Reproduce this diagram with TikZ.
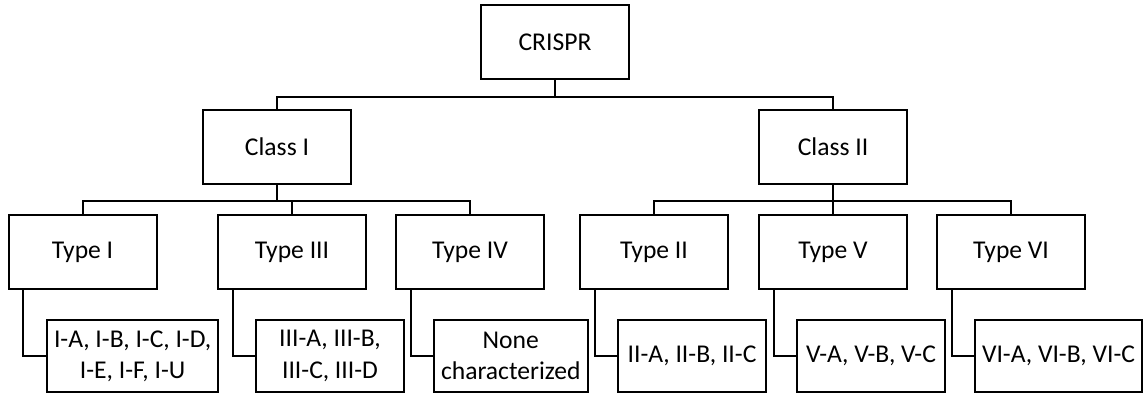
\documentclass[tikz,border=0pt]{standalone}
\usepackage{fontspec}
\setmainfont{Carlito}
\usetikzlibrary{backgrounds}

\begin{document}
\begin{tikzpicture}[x=0.5pt, y=-0.5pt,% pixel grid, y downwards
	box/.style={draw, line width=1pt, rectangle, minimum width=74pt, minimum height=37pt,
		inner xsep=3.5pt, align=center, font=\fontsize{12.8pt}{15.6pt}\selectfont},
	leaf/.style={box, minimum height=36pt, anchor=west},
	link/.style={line width=1pt}]

\useasboundingbox (0,0) rectangle (1144,394);

% Arrel
\node [box] (crispr) at (555, 42.5) {CRISPR};
%%%%%%%%%%%%%%%%%%%%%%%%%%%%%%%%%%%%%%%%%%%%%%%%%%%%%%%%%%%%%%%%%%%%%%%%%%%%%%%%
\node [box] (class1) at (277, 147) {Class I};
\node [box] (type1)  at (82.5, 252) {Type I};
\node [box] (type3)  at (292, 252)  {Type III};
\node [box] (type4)  at (470, 252)  {Type IV};
\node [leaf] (leaf1) at (46, 356)   {I-A, I-B, I-C, I-D,\\I-E, I-F, I-U};
\node [leaf] (leaf3) at (255, 356)  {III-A, III-B,\\III-C, III-D};
\node [leaf] (leaf4) at (433, 356)  {None\\characterized};
%%%%%%%%%%%%%%%%%%%%%%%%%%%%%%%%%%%%%%%%%%%%%%%%%%%%%%%%%%%%%%%%%%%%%%%%%%%%%%%%
\node [box] (class2) at (833, 147) {Class II};
\node [box] (type2)  at (654, 252)  {Type II};
\node [box] (type5)  at (833, 252)  {Type V};
\node [box] (type6)  at (1011, 252) {Type VI};
\node [leaf] (leaf2) at (617, 356)  {II-A, II-B, II-C};
\node [leaf] (leaf5) at (796, 356)  {V-A, V-B, V-C};
\node [leaf] (leaf6) at (974, 356)  {VI-A, VI-B, VI-C};
%%%%%%%%%%%%%%%%%%%%%%%%%%%%%%%%%%%%%%%%%%%%%%%%%%%%%%%%%%%%%%%%%%%%%%%%%%%%%%%%

%%%%%%%%%%%%%%%%%%%%%%%%%%%%%%%%%%%%%%%%%%%%%%%%%%%%%%%%%%%%%%%%%%%%%%%%%%%%%%%%
% Connexions
%%%%%%%%%%%%%%%%%%%%%%%%%%%%%%%%%%%%%%%%%%%%%%%%%%%%%%%%%%%%%%%%%%%%%%%%%%%%%%%%
\begin{pgfonlayer}{background}
\draw [link]
	(crispr.south)	-- ++(0,17) -| (class1.north)
	(crispr.south)	-- ++(0,17) -| (class2.north)

	(class1.south)	-- ++(0,16) -| (type1.north)
	(class1.south)	-- ++(0,16) -| (type3.north)
	(class1.south)	-- ++(0,16) -| (type4.north)

	(class2.south)	-- ++(0,16) -| (type2.north)
	(class2.south)	-- ++(0,16) -| (type5.north)
	(class2.south)	-- ++(0,16) -| (type6.north)

	([xshift=7.75pt]type1.south west)	|- (leaf1.west)
	([xshift=7.75pt]type3.south west)	|- (leaf3.west)
	([xshift=7.75pt]type4.south west)	|- (leaf4.west)
	([xshift=7.75pt]type2.south west)	|- (leaf2.west)
	([xshift=7.75pt]type5.south west)	|- (leaf5.west)
	([xshift=7.75pt]type6.south west)	|- (leaf6.west);
\end{pgfonlayer}

\end{tikzpicture}
\end{document}
